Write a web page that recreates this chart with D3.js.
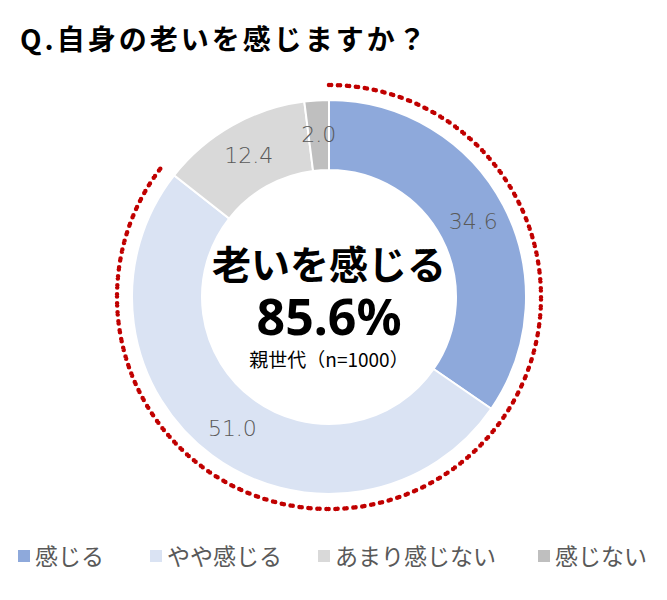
<!DOCTYPE html>
<html><head><meta charset="utf-8">
<script src="https://cdn.jsdelivr.net/npm/d3@7"></script>
<style>body{margin:0;background:#fff;font-family:"Noto Sans CJK JP","Noto Sans",sans-serif}</style>
</head><body><svg id="c" width="667" height="600"></svg>
<script>
const categories=["感じる","やや感じる","あまり感じない","感じない"];
const values=[34.6,51.0,12.4,2.0];
const colors=["#8EA9DB","#DAE3F3","#D9D9D9","#BFBFBF"];
const svg=d3.select("#c");
const cx=329,cy=297,ro=197,ri=127;
svg.append("text").attr("x",20).attr("y",50).attr("font-size",28).attr("letter-spacing",3).attr("font-weight","bold").attr("fill","#000").text("Q.自身の老いを感じますか？");
const pie=d3.pie().sort(null).value(d=>d)(values);
const arc=d3.arc().innerRadius(ri).outerRadius(ro);
const g=svg.append("g").attr("transform",`translate(${cx},${cy})`);
g.selectAll("path").data(pie).join("path").attr("d",arc).attr("fill",(d,i)=>colors[i]).attr("stroke","#fff").attr("stroke-width",2);
const la=d3.arc().innerRadius(163).outerRadius(163);
g.selectAll("text.l").data(pie).join("text").attr("class","l").attr("transform",d=>`translate(${la.centroid(d)})`)
 .attr("text-anchor","middle").attr("dy","0.35em").attr("font-size",22).attr("fill","#595959").attr("font-family","DejaVu Sans, sans-serif").attr("font-weight","300").text(d=>d.data.toFixed(1));
const endA=pie[1].endAngle;
g.append("path").attr("d",d3.arc().innerRadius(212).outerRadius(212)({startAngle:0,endAngle:endA}))
 .attr("fill","none").attr("stroke","#C00000").attr("stroke-width",4.5).attr("stroke-linecap","round").attr("stroke-dasharray","0 9");
g.append("text").attr("y",-18).attr("text-anchor","middle").attr("font-size",39).attr("font-weight","bold").text("老いを感じる");
g.append("text").attr("y",38).attr("text-anchor","middle").attr("font-size",50).attr("font-weight","bold").attr("font-family","Noto Sans, sans-serif").text((values[0]+values[1]).toFixed(1)+"%");
g.append("text").attr("y",70).attr("text-anchor","middle").attr("font-size",19).text("親世代（n=1000）");
const lx=[18,150,318,538];
const lg=svg.append("g");
categories.forEach((c,i)=>{
 lg.append("rect").attr("x",lx[i]).attr("y",550).attr("width",12).attr("height",12).attr("fill",colors[i]);
 lg.append("text").attr("x",lx[i]+17).attr("y",565).attr("font-size",23).attr("fill","#595959").text(c);
});
</script></body></html>
